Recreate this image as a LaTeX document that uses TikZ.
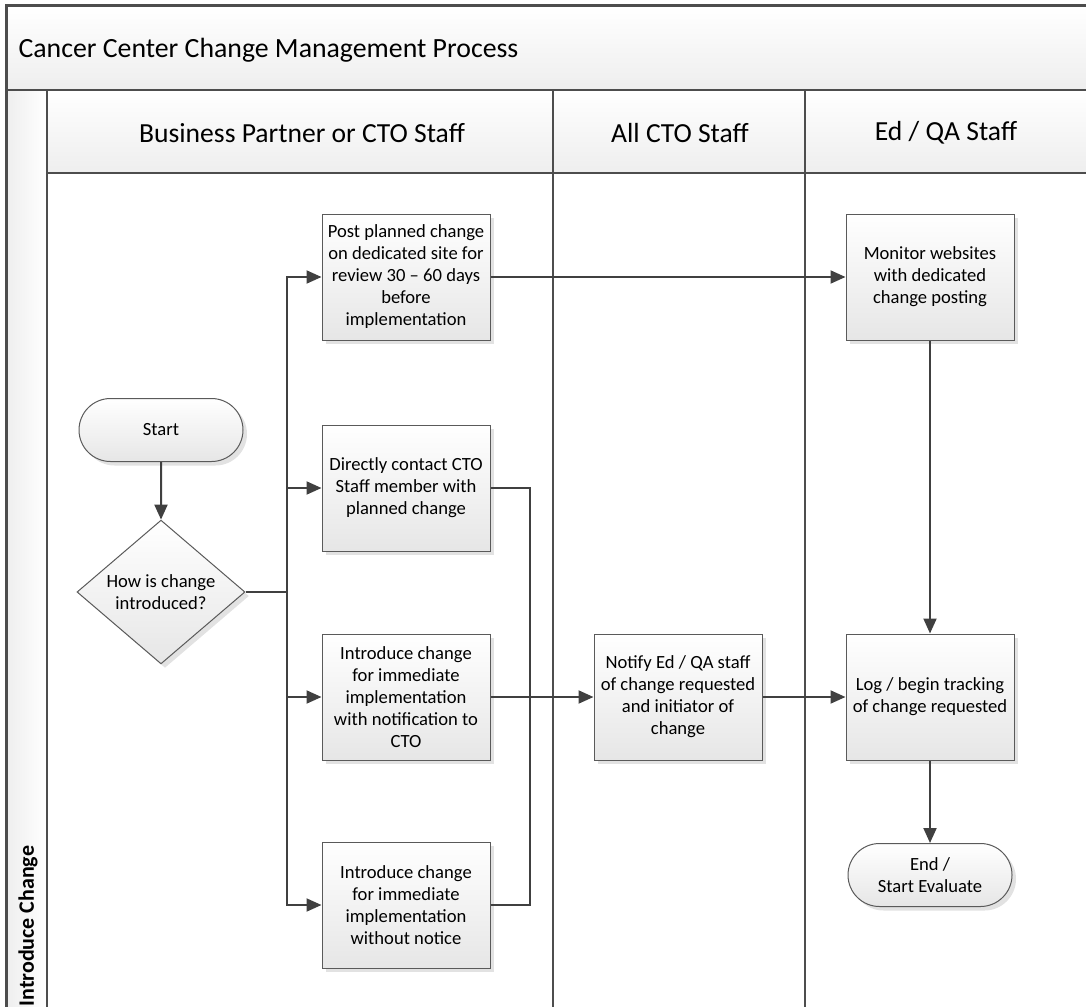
\documentclass[tikz,border=0pt]{standalone}
\usepackage{fontspec}
\setmainfont{Carlito}
\usetikzlibrary{shapes.geometric,shapes.misc,arrows.meta,shadows}
\definecolor{lineC}{HTML}{404040}
\definecolor{borderC}{HTML}{5A5A5A}
\definecolor{frameC}{HTML}{4D4D4D}
\definecolor{boxBot}{HTML}{E6E6E6}
\definecolor{hdrBot}{HTML}{EEEEEE}
\definecolor{shadowC}{HTML}{E2E2E2}
\tikzset{
  procbox/.style={rectangle, draw=borderC, line width=1pt, shading=axis, top color=white, bottom color=boxBot,
    minimum width=168pt, minimum height=126pt, inner sep=2pt, align=center,
    font=\fontsize{18.6}{22}\selectfont,
    drop shadow={shadow xshift=4pt, shadow yshift=-4pt, fill=shadowC, opacity=1}},
  termbox/.style={rounded rectangle, draw=borderC, line width=1pt, shading=axis, top color=white, bottom color=boxBot,
    minimum width=168pt, minimum height=63pt, inner sep=2pt, align=center,
    font=\fontsize{18.6}{22}\selectfont,
    drop shadow={shadow xshift=4pt, shadow yshift=-4pt, fill=shadowC, opacity=1}},
  decbox/.style={diamond, draw=borderC, line width=1pt, shading=axis, top color=white, bottom color=boxBot,
    minimum width=168pt, minimum height=125pt, inner sep=0pt, align=center,
    font=\fontsize{18.6}{22}\selectfont,
    drop shadow={shadow xshift=4pt, shadow yshift=-4pt, fill=shadowC, opacity=1}},
  conn/.style={draw=lineC, line width=2pt},
  arr/.style={conn, -{Triangle[length=15pt,width=13pt]}},
  hdr/.style={draw=frameC, line width=1.2pt, shading=axis, top color=white, bottom color=hdrBot},
  hdrtext/.style={font=\fontsize{27.6}{32}\selectfont}
}
\begin{document}
\begin{tikzpicture}[x=1pt,y=-1pt]
\useasboundingbox (0,0) rectangle (1086,1006);
% title band
\path[hdr, draw=none] (6,6) rectangle (1090,90);
\node[anchor=west, font=\fontsize{27.8}{32}\selectfont] (title) at (15,50) {Cancer Center Change Management Process};
% left lane strip
\path[shading=axis, left color=hdrBot, right color=white] (6,90) rectangle (47,1010);
% column headers
\path[hdr] (47,90) rectangle (553,173);
\path[hdr] (553,90) rectangle (805,173);
\path[hdr] (805,90) rectangle (1090,173);
\node[hdrtext] (h1) at (302,133) {Business Partner or CTO Staff};
\node[hdrtext] (h2) at (680,133) {All CTO Staff};
\node[hdrtext] (h3) at (946,133) {Ed / QA Staff};
% lane lines
\draw[frameC, line width=1.2pt] (553,173) -- (553,1010);
\draw[frameC, line width=1.2pt] (805,173) -- (805,1010);
\draw[frameC, line width=1.2pt] (47,90) -- (47,1010);
\draw[frameC, line width=1.2pt] (6,90) -- (1090,90);
% outer frame
\draw[frameC, line width=3pt] (6,1010) -- (6,6) -- (1090,6);
% lane label
\node[rotate=90, anchor=west, font=\bfseries\fontsize{22}{26}\selectfont] (lane) at (28,1010) {Introduce Change};
% nodes
\node[termbox] (start) at (161,430) {Start};
\node[decbox] (dec) at (161,592) {How is change\\introduced?};
\node[procbox] (post) at (406,277) {Post planned change\\on dedicated site for\\review 30 – 60 days\\before\\implementation};
\node[procbox] (direct) at (406,488) {Directly contact CTO\\Staff member with\\planned change};
\node[procbox] (notif) at (406,697) {Introduce change\\for immediate\\implementation\\with notification to\\CTO};
\node[procbox] (nonot) at (406,905) {Introduce change\\for immediate\\implementation\\without notice};
\node[procbox] (notify) at (678,697) {Notify Ed / QA staff\\of change requested\\and initiator of\\change};
\node[procbox] (monitor) at (930,277) {Monitor websites\\with dedicated\\change posting};
\node[procbox] (logb) at (930,697) {Log / begin tracking\\of change requested};
\node[termbox] (endb) at (930,875) {End /\\Start Evaluate};
% connectors
\coordinate (bj) at (287,592);
\coordinate (mj) at (530,697);
\draw[arr] (start) -- (dec);
\draw[conn] (dec.east) -- (bj);
\draw[arr] (bj) |- (post.west);
\draw[arr] (bj) |- (direct.west);
\draw[arr] (bj) |- (notif.west);
\draw[arr] (bj) |- (nonot.west);
\draw[arr] (post.east) -- (monitor.west);
\draw[arr] (monitor) -- (logb);
\draw[conn] (direct.east) -| (mj);
\draw[conn] (nonot.east) -| (mj);
\draw[arr] (notif.east) -- (notify.west);
\draw[arr] (notify.east) -- (logb.west);
\draw[arr] (logb) -- (endb);
\end{tikzpicture}
\end{document}
